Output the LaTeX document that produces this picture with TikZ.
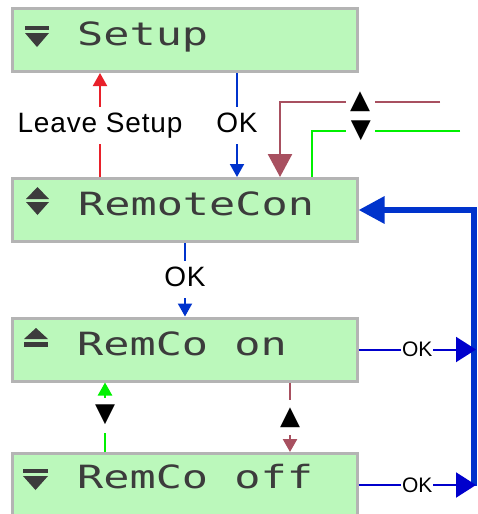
\documentclass[tikz,border=0pt]{standalone}
\usepackage{fontspec}
\setmainfont{Liberation Sans}
\newfontfamily\lcdfont{DejaVu Sans Mono}
\newfontfamily\symfont{DejaVu Sans}
\newfontfamily\lblfont[LetterSpace=3]{Liberation Sans}
\usetikzlibrary{arrows.meta}
\definecolor{boxfill}{RGB}{187,248,187}
\definecolor{boxline}{RGB}{180,180,180}
\definecolor{lcdtxt}{RGB}{60,60,60}
\definecolor{myred}{RGB}{232,32,42}
\definecolor{myblue}{RGB}{0,51,204}
\definecolor{deepblue}{RGB}{0,0,204}
\definecolor{mymaroon}{RGB}{168,80,96}
\definecolor{mygreen}{RGB}{0,240,0}
\newcommand{\lcdtext}[1]{\scalebox{1.36}[1]{#1}}
\begin{document}
\begin{tikzpicture}[x=1pt,y=-1pt,
  box/.style={draw=boxline,fill=boxfill,line width=3pt,minimum width=345pt,minimum height=63pt,inner sep=0pt},
  lcd/.style={anchor=base west,inner sep=0pt,text=lcdtxt,font=\lcdfont\fontsize{32}{32}\selectfont},
  icon/.style={fill=lcdtxt,draw=none},
  lbl/.style={fill=white,inner sep=5.5pt,text height=20pt,text depth=6pt,font=\lblfont\fontsize{28}{28}\selectfont},
  oklbl/.style={fill=white,inner sep=1pt,font=\fontsize{21}{21}\selectfont},
  sym/.style={fill=white,inner xsep=4.5pt,inner ysep=7.5pt,font=\symfont\fontsize{26}{26}\selectfont},
  smalltip/.style={-{Triangle[length=13pt,width=14pt]}},
  redc/.style={draw=myred,line width=2pt},
  bluec/.style={draw=myblue,line width=2pt},
  deepbluec/.style={draw=deepblue,line width=2pt},
  thickblue/.style={draw=myblue,line width=6pt},
  maroonc/.style={draw=mymaroon,line width=2.5pt},
  greenc/.style={draw=mygreen,line width=2.5pt}
]
\path[use as bounding box,fill=white] (0,0) rectangle (477,514);
\clip (0,0) rectangle (477,514);

% boxes
\node[box] (setup) at (184.5,40) {};
\node[box] (remotecon) at (184.5,210) {};
\node[box] (remcoon) at (184.5,349.5) {};
\node[box] (remcooff) at (184.5,485) {};

% texts
\node[lcd] (setupT) at (77,45) {\lcdtext{Setup}};
\node[lcd] (rcT) at (78,215) {\lcdtext{RemoteCon}};
\node[lcd] (onT) at (77,355) {\lcdtext{RemCo on}};
\node[lcd] (offT) at (77,488) {\lcdtext{RemCo off}};

% icons
\fill[icon] (25,26) rectangle (49,30);
\fill[icon] (25,33) -- (49,33) -- (37,47) -- cycle;
\fill[icon] (37.5,187) -- (49,199) -- (26,199) -- cycle;
\fill[icon] (26,202) -- (49,202) -- (37.5,215) -- cycle;
\fill[icon] (36,328) -- (48,339) -- (24,339) -- cycle;
\fill[icon] (24,342) rectangle (48,347);
\fill[icon] (23,469) rectangle (48,473);
\fill[icon] (23,476) -- (48,476) -- (35.5,490) -- cycle;

% coordinates
\coordinate (redx) at (100,0);
\coordinate (bluex) at (237,0);
\coordinate (b2x) at (185,0);
\coordinate (g2x) at (105,0);
\coordinate (m2x) at (290,0);
\coordinate (mstart) at (440,102);
\coordinate (mcorner) at (280,102);
\coordinate (gstart) at (460,131);
\coordinate (gcorner) at (312,131);
\coordinate (vx) at (474,0);
\coordinate (vbot) at (474,486);
\coordinate (tipx) at (476,0);

% connectors
\draw[redc,smalltip] (remotecon.north -| redx) -- node[lbl] (leave) {Leave Setup} (setup.south -| redx);
\draw[bluec,smalltip] (setup.south -| bluex) -- node[lbl] (ok1) {OK} (remotecon.north -| bluex);
\draw[maroonc,-{Triangle[length=23pt,width=24pt]}] (mstart) -- node[sym] (up1) {▲} (mcorner) -- (remotecon.north -| mcorner);
\draw[greenc] (gstart) -- node[sym,pos=0.669] (dn1) {▼} (gcorner) -- (remotecon.north -| gcorner);
\draw[bluec,smalltip] (remotecon.south -| b2x) -- node[lbl] (ok2) {OK} (remcoon.north -| b2x);
\draw[greenc,smalltip] (remcooff.north -| g2x) -- node[sym,pos=0.53] (dn2) {▼} (remcoon.south -| g2x);
\draw[maroonc,smalltip] (remcoon.south -| m2x) -- node[sym] (up2) {▲} (remcooff.north -| m2x);
\draw[thickblue,-{Triangle[length=26pt,width=26pt]}] (vbot) -- (remotecon.east -| vx) -- (remotecon.east);
\draw[deepbluec,-{Triangle[length=20pt,width=25pt]}] (remcoon.east) -- node[oklbl] (ok3) {OK} (remcoon.east -| tipx);
\draw[deepbluec,-{Triangle[length=20pt,width=25pt]}] (remcooff.east) -- node[oklbl] (ok4) {OK} (remcooff.east -| tipx);
\end{tikzpicture}
\end{document}
